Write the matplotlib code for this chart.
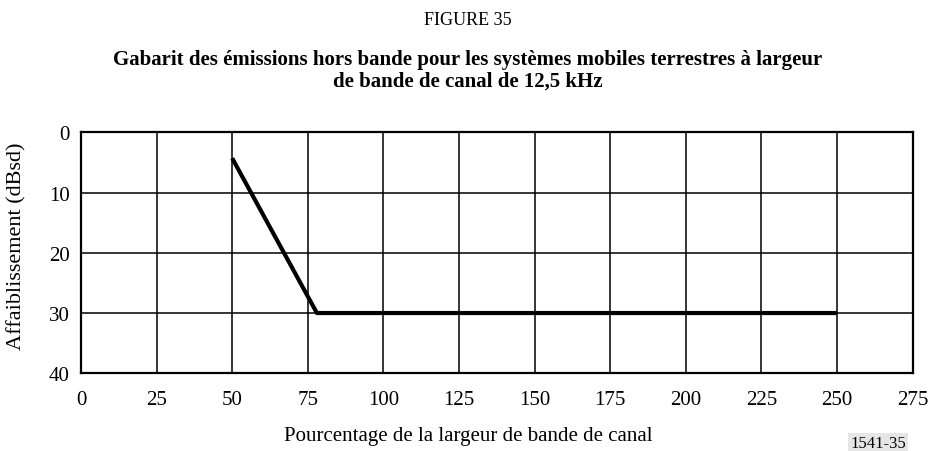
import matplotlib
matplotlib.use('Agg')
import matplotlib.pyplot as plt

plt.rcParams['font.family'] = ['Liberation Serif', 'DejaVu Serif']

# Mask data: percentage of channel bandwidth vs attenuation (dBsd)
pct = [50, 78, 250]
attenuation = [4.3, 30, 30]

x_ticks = [0, 25, 50, 75, 100, 125, 150, 175, 200, 225, 250, 275]
y_ticks = [0, 10, 20, 30, 40]

fig = plt.figure(figsize=(9.34, 4.52), dpi=100)
ax = fig.add_axes([0.0867, 0.172, 0.8905, 0.533])

ax.plot(pct, attenuation, color='black', lw=3.0, solid_capstyle='butt', zorder=3)

ax.set_xlim(0, 275)
ax.set_ylim(40, 0)
ax.set_xticks(x_ticks)
ax.set_yticks(y_ticks)
ax.grid(True, color='black', lw=1.1)
ax.tick_params(length=0, labelsize=15, pad=12)
ax.tick_params(axis='y', pad=8)
for s in ax.spines.values():
    s.set_linewidth(1.6)

ax.set_ylabel('Affaiblissement (dBsd)', fontsize=16)
ax.yaxis.set_label_coords(-0.065, 0.53)

fig.text(0.501, 0.955, 'FIGURE 35', ha='center', va='center', fontsize=13)
fig.text(0.501, 0.868, 'Gabarit des émissions hors bande pour les systèmes mobiles terrestres à largeur',
         ha='center', va='center', fontsize=15, fontweight='bold')
fig.text(0.501, 0.819, 'de bande de canal de 12,5 kHz',
         ha='center', va='center', fontsize=15, fontweight='bold')
fig.text(0.501, 0.034, 'Pourcentage de la largeur de bande de canal',
         ha='center', va='center', fontsize=15)
fig.text(0.94, 0.018, '1541-35', ha='center', va='center', fontsize=12,
         bbox=dict(facecolor='#e6e6e6', edgecolor='none', pad=1.5))

fig.savefig('out.png', dpi=100)
